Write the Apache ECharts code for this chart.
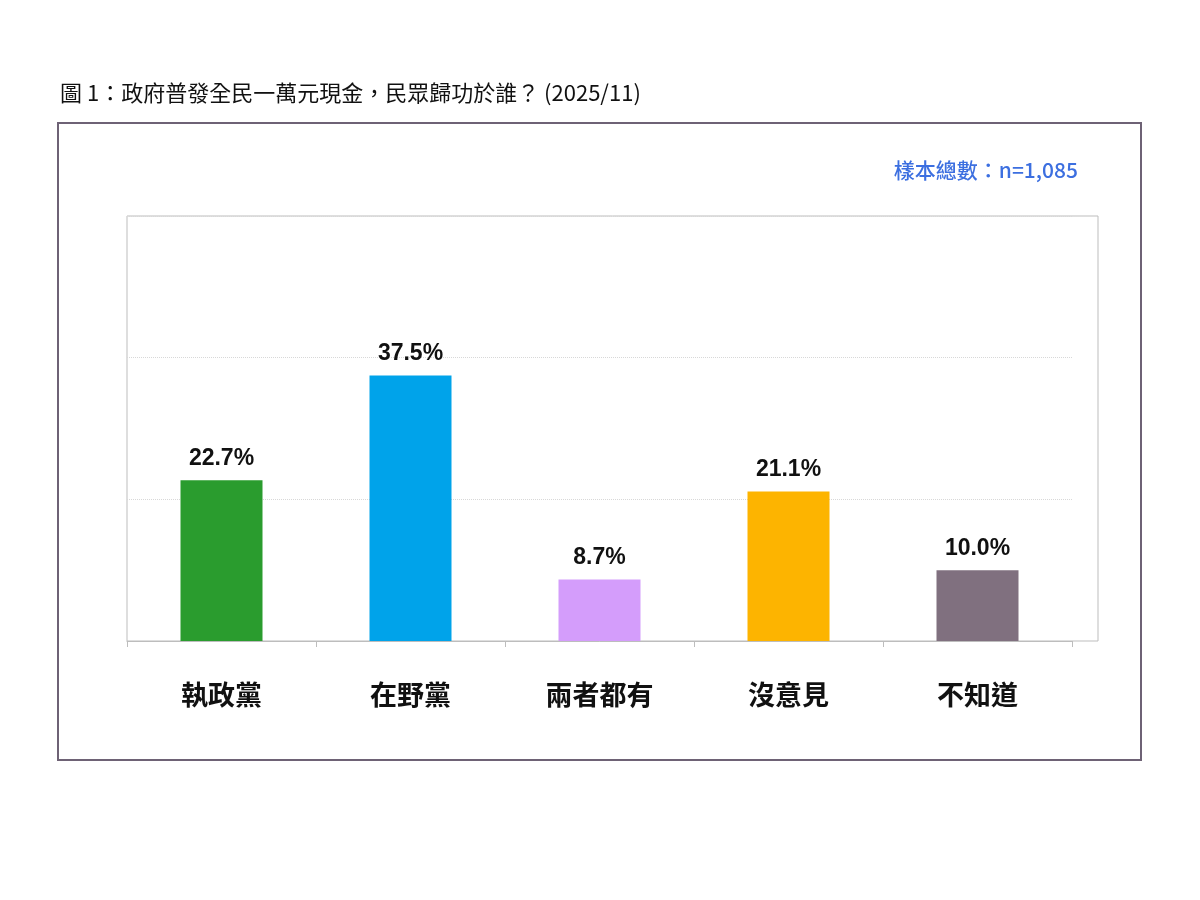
<!DOCTYPE html>
<html><head><meta charset="utf-8">
<script src="https://cdn.jsdelivr.net/npm/echarts@6/dist/echarts.min.js"></script>
<style>html,body{margin:0;background:#fff}#c{width:1200px;height:900px}</style>
</head><body><div id="c"></div>
<script>
const categories = ['執政黨','在野黨','兩者都有','沒意見','不知道'];
const values = [22.7, 37.5, 8.7, 21.1, 10.0];
const colors = ['#2a9c2e','#00a3ea','#d49dfb','#fdb400','#80707f'];
const titleText = '圖 1：政府普發全民一萬元現金，民眾歸功於誰？ (2025/11)';
const sampleText = '樣本總數：n=1,085';
const chart = echarts.init(document.getElementById('c'));
chart.setOption({
  animation:false,
  graphic:[
    {type:'text',left:60,top:82,style:{text:titleText,font:'22px "Noto Sans CJK TC"',fill:'#111'}},
    {type:'rect',shape:{x:58,y:123,width:1083,height:637},style:{fill:'none',stroke:'#6e6275',lineWidth:2}},
    {type:'rect',shape:{x:127,y:216,width:971,height:425},style:{fill:'none',stroke:'#bdbdbd',lineWidth:1}},
    {type:'text',right:122,top:160,style:{text:sampleText,font:'500 21px "Noto Sans CJK TC"',fill:'#3c6fe0'}}
  ],
  grid:{left:127,top:216,width:945,height:425},
  xAxis:{type:'category',data:categories,
    axisLine:{lineStyle:{color:'#bdbdbd'}},
    axisTick:{show:true,length:6,lineStyle:{color:'#bdbdbd'}},
    axisLabel:{margin:40,fontSize:27,fontWeight:'bold',color:'#111',fontFamily:'Noto Sans CJK TC'}},
  yAxis:{type:'value',min:0,max:60,interval:20,axisLabel:{show:false},axisLine:{show:false},axisTick:{show:false},
    splitLine:{lineStyle:{color:'#d8d8d8',type:'dotted'}}},
  series:[{type:'bar',barWidth:82,
    data:values.map((v,i)=>({value:v,itemStyle:{color:colors[i]}})),
    label:{show:true,position:'top',distance:10,formatter:p=>p.value.toFixed(1)+'%',fontSize:23,fontWeight:'bold',color:'#111',fontFamily:'Liberation Sans'}}]
});
</script></body></html>
